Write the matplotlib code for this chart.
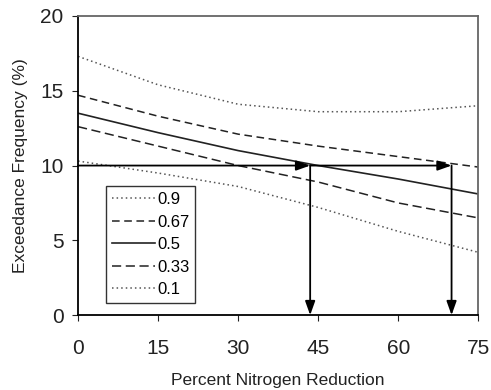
import matplotlib
matplotlib.use("Agg")
import matplotlib.pyplot as plt

plt.rcParams["font.family"] = ["Liberation Sans", "DejaVu Sans"]

# percent nitrogen reduction
reduction = [0, 15, 30, 45, 60, 75]

# exceedance frequency (%) per probability level
q90 = [17.3, 15.4, 14.1, 13.6, 13.6, 14.0]
q67 = [14.7, 13.3, 12.1, 11.3, 10.6, 9.9]
q50 = [13.5, 12.2, 11.0, 10.0, 9.1, 8.1]
q33 = [12.6, 11.3, 10.0, 8.9, 7.5, 6.5]
q10 = [10.3, 9.5, 8.6, 7.2, 5.6, 4.2]

target = 10
hits = [43.5, 70]

fig = plt.figure(figsize=(4.91, 3.90), dpi=100)
ax = fig.add_axes([0.159, 0.192, 0.815, 0.767])

ax.plot(reduction, q90, color="#555555", linestyle=(0, (1, 2)), lw=1.1, label="0.9")
ax.plot(reduction, q67, color="#222222", linestyle=(0, (5, 3)), lw=1.1, label="0.67")
ax.plot(reduction, q50, color="#222222", linestyle="-", lw=1.2, label="0.5")
ax.plot(reduction, q33, color="#222222", linestyle=(0, (6, 3)), lw=1.1, label="0.33")
ax.plot(reduction, q10, color="#555555", linestyle=(0, (1, 2)), lw=1.1, label="0.1")

arrow = dict(arrowstyle="-|>,head_length=0.7,head_width=0.25", color="black",
             lw=1.3, mutation_scale=12, shrinkA=0, shrinkB=0)
start = 0
for h in hits:
    ax.annotate("", xy=(h, target), xytext=(start, target), arrowprops=arrow)
    ax.annotate("", xy=(h, 0), xytext=(h, target), arrowprops=arrow)
    start = h

ax.set_xlim(0, 75)
ax.set_ylim(0, 20)
ax.set_xticks([0, 15, 30, 45, 60, 75])
ax.set_yticks([0, 5, 10, 15, 20])
ax.tick_params(direction="out", length=4, labelsize=15, colors="#222222")
ax.tick_params(axis="x", pad=13)
ax.tick_params(axis="y", pad=6.5)
ax.set_xlabel("Percent Nitrogen Reduction", fontsize=12.5, labelpad=11, color="#222222")
ax.set_ylabel("Exceedance Frequency (%)", fontsize=12.5, labelpad=8.5, color="#222222")
for side in ["left", "bottom"]:
    ax.spines[side].set_linewidth(1.3)
for side in ["top", "right"]:
    ax.spines[side].set_color("#666666")
    ax.spines[side].set_linewidth(1.3)

leg = ax.legend(loc="lower left", bbox_to_anchor=(0.07, 0.04), fontsize=12,
                frameon=True, fancybox=False, handlelength=2.6,
                handletextpad=0.1, labelspacing=0.45, borderpad=0.35,
                borderaxespad=0)
leg.get_frame().set_edgecolor("black")
leg.get_frame().set_linewidth(1.0)

fig.savefig("out.png", dpi=100)
